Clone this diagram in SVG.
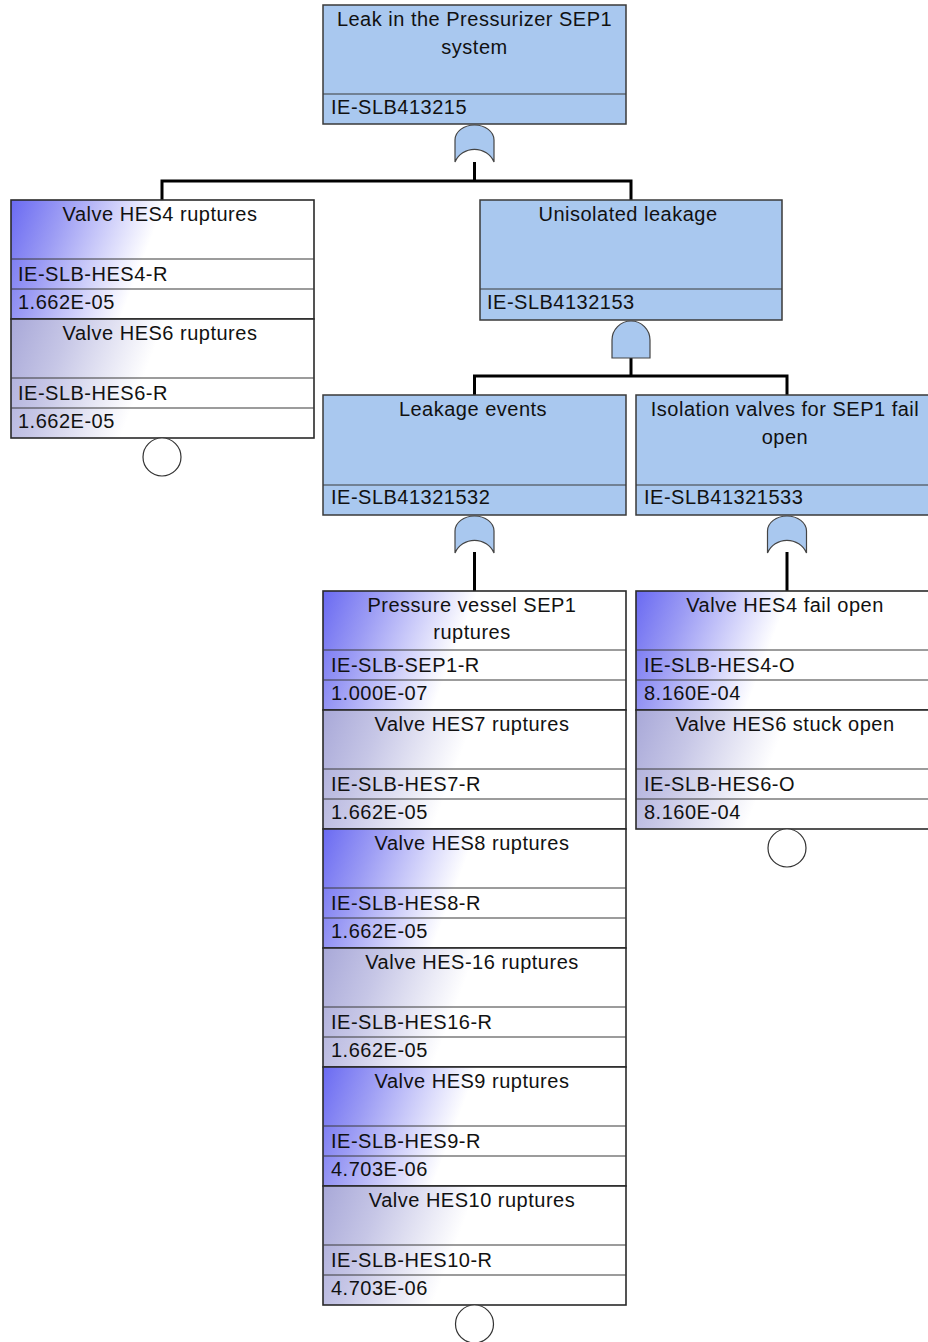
<svg xmlns="http://www.w3.org/2000/svg" width="928" height="1342" viewBox="0 0 928 1342">
<defs>
<linearGradient id="gs" x1="0" y1="0" x2="1" y2="0.15">
<stop offset="0" stop-color="#6a6af2"/>
<stop offset="0.18" stop-color="#9c9cf4"/>
<stop offset="0.5" stop-color="#ffffff"/>
</linearGradient>
<linearGradient id="gl" x1="0" y1="0" x2="1" y2="0.15">
<stop offset="0" stop-color="#a8a8d8"/>
<stop offset="0.2" stop-color="#c6c6e6"/>
<stop offset="0.5" stop-color="#ffffff"/>
</linearGradient>
</defs>
<style>
.box{fill:#a9c8ef;stroke:#3a3a3a;stroke-width:1.5}
.bs{fill:url(#gs);stroke:#2a2a2a;stroke-width:1.6}
.bl{fill:url(#gl);stroke:#2a2a2a;stroke-width:1.6}
.sep{stroke:#3a3a3a;stroke-width:1.2;fill:none}
.t{font-family:"Liberation Sans",Arial,sans-serif;font-size:20px;letter-spacing:0.5px;fill:#111}
.c{text-anchor:middle}
.conn{stroke:#000;stroke-width:3;fill:none}
.g{fill:#a9c8ef;stroke:#444;stroke-width:1.2}
.circ{fill:#fff;stroke:#333;stroke-width:1.2}
</style>
<rect width="928" height="1342" fill="#fff"/>

<g id="connectors">
<path class="conn" d="M474.5,162 V181"/>
<path class="conn" d="M162,200 V181 H631 V200"/>
<path class="conn" d="M631,358 V376"/>
<path class="conn" d="M474.5,395 V376 H787 V395"/>
<path class="conn" d="M474.5,552 V591"/>
<path class="conn" d="M787,552 V591"/>
</g>

<g id="top">
<rect class="box" x="323" y="5" width="303" height="119"/>
<line class="sep" x1="323" y1="94" x2="626" y2="94"/>
<text class="t c" x="474.5" y="26">Leak in the Pressurizer SEP1</text>
<text class="t c" x="474.5" y="54">system</text>
<text class="t" x="331" y="114">IE-SLB413215</text>
</g>
<g id="gate-top">
<path class="g" d="M455,162 V140 A19.5,15 0 0 1 494,140 V162 A21,20 0 0 0 455,162 Z"/>
</g>

<g id="hes4-hes6">
<rect class="bs" x="11" y="200" width="303" height="119"/>
<rect class="bl" x="11" y="319" width="303" height="119"/>
<line class="sep" x1="11" y1="259" x2="314" y2="259"/>
<line class="sep" x1="11" y1="289" x2="314" y2="289"/>
<line class="sep" x1="11" y1="378" x2="314" y2="378"/>
<line class="sep" x1="11" y1="408" x2="314" y2="408"/>
<text class="t c" x="160" y="221">Valve HES4 ruptures</text>
<text class="t" x="18" y="281">IE-SLB-HES4-R</text>
<text class="t" x="18" y="309">1.662E-05</text>
<text class="t c" x="160" y="340">Valve HES6 ruptures</text>
<text class="t" x="18" y="400">IE-SLB-HES6-R</text>
<text class="t" x="18" y="428">1.662E-05</text>
<circle class="circ" cx="162" cy="457" r="19"/>
</g>

<g id="unisolated">
<rect class="box" x="480" y="200" width="302" height="120"/>
<line class="sep" x1="480" y1="289" x2="782" y2="289"/>
<text class="t c" x="628" y="221">Unisolated leakage</text>
<text class="t" x="487" y="309">IE-SLB4132153</text>
</g>
<g id="gate-and">
<path class="g" d="M612,358 V340 A19,19 0 0 1 650,340 V358 Z"/>
</g>

<g id="leakage-events">
<rect class="box" x="323" y="395" width="303" height="120"/>
<line class="sep" x1="323" y1="485" x2="626" y2="485"/>
<text class="t c" x="473" y="416">Leakage events</text>
<text class="t" x="331" y="504">IE-SLB41321532</text>
</g>
<g id="gate-leak">
<path class="g" d="M455,553 V531 A19.5,15 0 0 1 494,531 V553 A21,20 0 0 0 455,553 Z"/>
</g>

<g id="isolation">
<rect class="box" x="636" y="395" width="303" height="120"/>
<line class="sep" x1="636" y1="485" x2="939" y2="485"/>
<text class="t c" x="785" y="416">Isolation valves for SEP1 fail</text>
<text class="t c" x="785" y="444">open</text>
<text class="t" x="644" y="504">IE-SLB41321533</text>
</g>
<g id="gate-iso">
<path class="g" d="M767.5,553 V531 A19.5,15 0 0 1 806.5,531 V553 A21,20 0 0 0 767.5,553 Z"/>
</g>

<g id="leak-basic">
<rect class="bs" x="323" y="591" width="303" height="119"/>
<rect class="bl" x="323" y="710" width="303" height="119"/>
<rect class="bs" x="323" y="829" width="303" height="119"/>
<rect class="bl" x="323" y="948" width="303" height="119"/>
<rect class="bs" x="323" y="1067" width="303" height="119"/>
<rect class="bl" x="323" y="1186" width="303" height="119"/>
<path class="sep" d="M323,650 H626 M323,680 H626 M323,769 H626 M323,799 H626 M323,888 H626 M323,918 H626 M323,1007 H626 M323,1037 H626 M323,1126 H626 M323,1156 H626 M323,1245 H626 M323,1275 H626"/>
<text class="t c" x="472" y="612">Pressure vessel SEP1</text>
<text class="t c" x="472" y="639">ruptures</text>
<text class="t" x="331" y="672">IE-SLB-SEP1-R</text>
<text class="t" x="331" y="700">1.000E-07</text>
<text class="t c" x="472" y="731">Valve HES7 ruptures</text>
<text class="t" x="331" y="791">IE-SLB-HES7-R</text>
<text class="t" x="331" y="819">1.662E-05</text>
<text class="t c" x="472" y="850">Valve HES8 ruptures</text>
<text class="t" x="331" y="910">IE-SLB-HES8-R</text>
<text class="t" x="331" y="938">1.662E-05</text>
<text class="t c" x="472" y="969">Valve HES-16 ruptures</text>
<text class="t" x="331" y="1029">IE-SLB-HES16-R</text>
<text class="t" x="331" y="1057">1.662E-05</text>
<text class="t c" x="472" y="1088">Valve HES9 ruptures</text>
<text class="t" x="331" y="1148">IE-SLB-HES9-R</text>
<text class="t" x="331" y="1176">4.703E-06</text>
<text class="t c" x="472" y="1207">Valve HES10 ruptures</text>
<text class="t" x="331" y="1267">IE-SLB-HES10-R</text>
<text class="t" x="331" y="1295">4.703E-06</text>
<circle class="circ" cx="474.5" cy="1324" r="19"/>
</g>

<g id="iso-basic">
<rect class="bs" x="636" y="591" width="303" height="119"/>
<rect class="bl" x="636" y="710" width="303" height="119"/>
<path class="sep" d="M636,650 H939 M636,680 H939 M636,769 H939 M636,799 H939"/>
<text class="t c" x="785" y="612">Valve HES4 fail open</text>
<text class="t" x="644" y="672">IE-SLB-HES4-O</text>
<text class="t" x="644" y="700">8.160E-04</text>
<text class="t c" x="785" y="731">Valve HES6 stuck open</text>
<text class="t" x="644" y="791">IE-SLB-HES6-O</text>
<text class="t" x="644" y="819">8.160E-04</text>
<circle class="circ" cx="787" cy="848" r="19"/>
</g>
</svg>
